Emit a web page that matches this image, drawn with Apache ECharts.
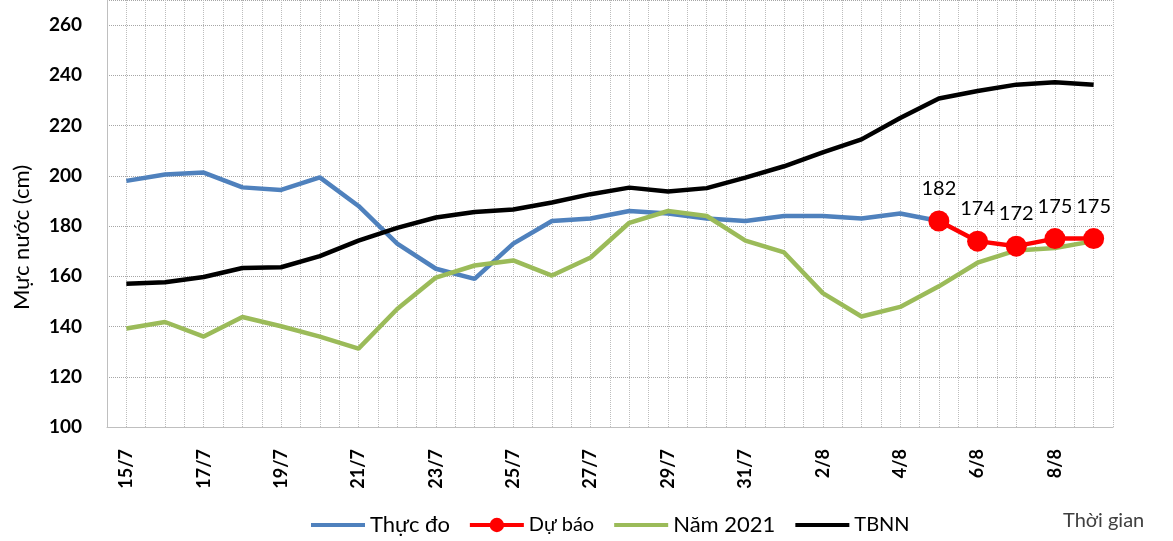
<!DOCTYPE html>
<html lang="vi">
<head>
<meta charset="UTF-8">
<title>Mực nước</title>
<script src="https://cdn.jsdelivr.net/npm/echarts@6/dist/echarts.min.js"></script>
<style>
  html, body { margin: 0; padding: 0; background: #fff; }
  #main { width: 1173px; height: 541px; }
</style>
</head>
<body>
<div id="main"></div>
<script>
  // ngày (15/7 -> 9/8)
  var days = ['15/7', '16/7', '17/7', '18/7', '19/7', '20/7', '21/7', '22/7', '23/7', '24/7',
    '25/7', '26/7', '27/7', '28/7', '29/7', '30/7', '31/7', '1/8', '2/8', '3/8',
    '4/8', '5/8', '6/8', '7/8', '8/8', '9/8'];

  var thucDo = [198, 200.5, 201.3, 195.4, 194.4, 199.4, 188, 173, 163, 159,
    173, 182, 183, 186, 185, 183, 182, 184, 184, 183,
    185, 182, null, null, null, null];

  var duBao = [null, null, null, null, null, null, null, null, null, null,
    null, null, null, null, null, null, null, null, null, null,
    null, 182, 174, 172, 175, 175];

  var nam2021 = [139.2, 141.8, 136, 143.8, 140.1, 136, 131.2, 147, 159.5, 164.3,
    166.3, 160.3, 167.5, 181.3, 186, 184, 174.2, 169.5, 153.3, 144,
    147.8, 156, 165.4, 170.3, 171.3, 174];

  var tbnn = [157, 157.6, 159.7, 163.3, 163.6, 168, 174.2, 179.3, 183.4, 185.6,
    186.6, 189.4, 192.7, 195.3, 193.8, 195.1, 199.3, 203.8, 209.3, 214.5,
    223, 230.8, 233.8, 236.3, 237.3, 236.3];

  var yMin = 100, yMax = 270, yStep = 20;

  var font = 'Lato, "Noto Sans", sans-serif';
  var myChart = echarts.init(document.getElementById('main'));

  // legend: chỉ "Dự báo" có chấm tròn
  var noDot = { opacity: 0 };

  var option = {
    backgroundColor: '#fff',
    animation: false,
    textStyle: { fontFamily: font },
    grid: { left: 107, right: 60, top: 0, bottom: 114 },
    legend: {
      left: 304,
      top: 509,
      itemWidth: 54,
      itemHeight: 18,
      itemGap: 18,
      lineStyle: { width: 4 },
      data: [
        { name: 'Thực đo', itemStyle: noDot },
        { name: 'Dự báo' },
        { name: 'Năm 2021', itemStyle: noDot },
        { name: 'TBNN', itemStyle: noDot }
      ],
      formatter: function (name) {
        if (name === 'Dự báo' || name === 'TBNN') return '{s|' + name + '}';
        return '{b|' + name + '}';
      },
      textStyle: {
        fontFamily: font,
        color: '#000',
        rich: {
          b: { fontSize: 22, fontFamily: font, color: '#000' },
          s: { fontSize: 20, fontFamily: font, color: '#000' }
        }
      }
    },
    xAxis: [{
      type: 'category',
      data: days,
      boundaryGap: true,
      name: 'Thời gian',
      nameLocation: 'end',
      nameGap: -50,
      nameTextStyle: { fontSize: 20, color: '#404040', align: 'left', verticalAlign: 'top', padding: [84, 0, 0, 0] },
      axisLine: { lineStyle: { color: '#bfbfbf', width: 1 } },
      axisTick: { show: false },
      axisLabel: {
        interval: 1,
        rotate: 90,
        margin: 22,
        fontSize: 18,
        fontWeight: 'bold',
        color: '#000'
      },
      splitLine: { show: false }
    }, {
      // trục phụ chỉ để vẽ lưới dọc nửa ngày
      type: 'value',
      min: 0,
      max: 52,
      interval: 1,
      position: 'bottom',
      axisLine: { show: false },
      axisTick: { show: false },
      axisLabel: { show: false },
      splitLine: { show: true, lineStyle: { color: '#bdbdbd', type: 'dotted', width: 1 } }
    }],
    yAxis: {
      type: 'value',
      min: yMin,
      max: yMax,
      interval: yStep,
      name: 'Mực nước (cm)',
      nameLocation: 'middle',
      nameGap: 74,
      nameTextStyle: { fontSize: 22, color: '#000', padding: [0, 48, 0, 0] },
      axisLine: { show: true, lineStyle: { color: '#bfbfbf', width: 1 } },
      axisTick: { show: false },
      axisLabel: {
        margin: 25,
        fontSize: 19,
        fontWeight: 'bold',
        color: '#000',
        formatter: function (v) { return v === yMax ? '' : v; }
      },
      splitLine: { lineStyle: { color: '#a6a6a6', type: 'dotted', width: 1 } }
    },
    series: [{
      name: 'Thực đo',
      type: 'line',
      data: thucDo,
      symbol: 'none',
      lineStyle: { color: '#4f81bd', width: 4.5 },
      itemStyle: { color: '#4f81bd' }
    }, {
      name: 'Dự báo',
      type: 'line',
      data: duBao,
      symbol: 'circle',
      symbolSize: 21,
      lineStyle: { color: '#ff0000', width: 4.5 },
      itemStyle: { color: '#ff0000' },
      label: {
        show: true,
        position: 'top',
        distance: 12,
        fontSize: 20,
        color: '#000'
      }
    }, {
      name: 'Năm 2021',
      type: 'line',
      data: nam2021,
      symbol: 'none',
      lineStyle: { color: '#9bbb59', width: 4.5 },
      itemStyle: { color: '#9bbb59' }
    }, {
      name: 'TBNN',
      type: 'line',
      data: tbnn,
      symbol: 'none',
      lineStyle: { color: '#000', width: 4.5 },
      itemStyle: { color: '#000' }
    }]
  };

  myChart.setOption(option);
</script>
</body>
</html>
